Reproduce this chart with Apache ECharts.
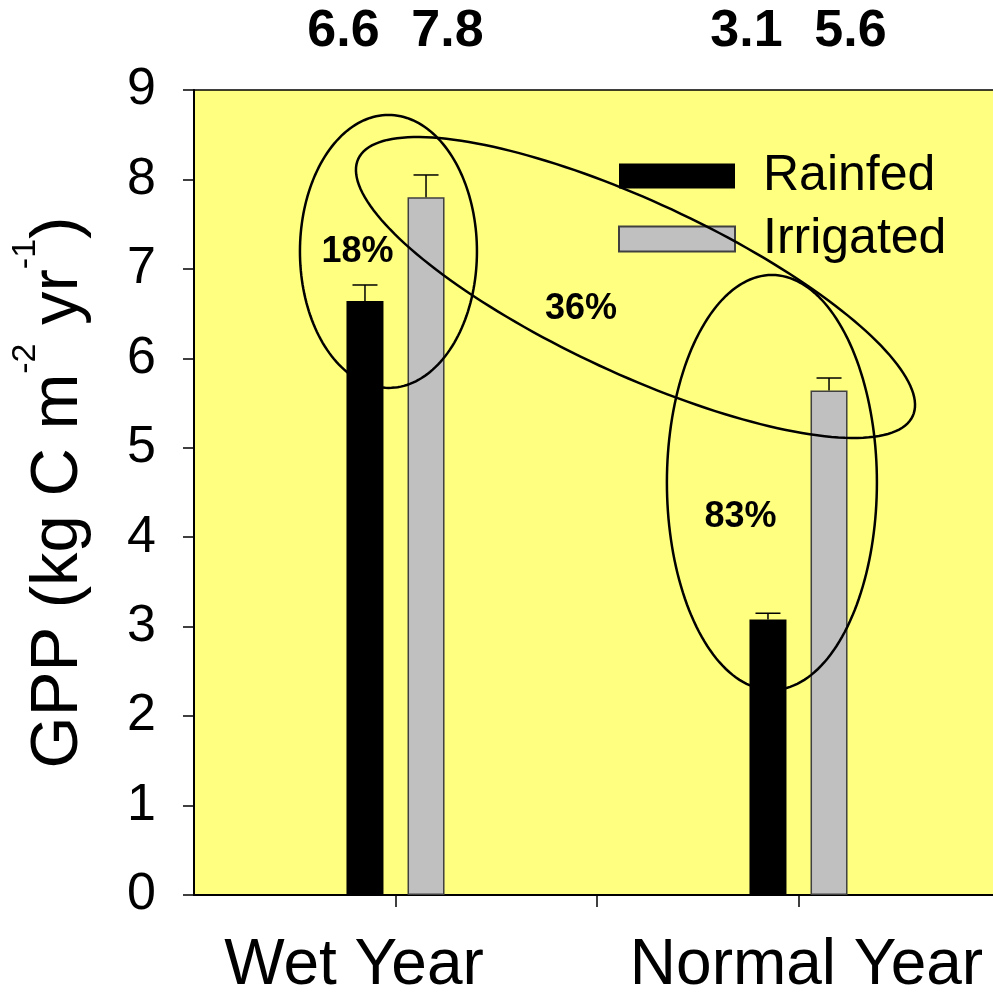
<!DOCTYPE html>
<html>
<head>
<meta charset="utf-8">
<title>GPP wet vs normal year</title>
<script src="https://cdn.jsdelivr.net/npm/echarts@6/dist/echarts.min.js"></script>
<style>
  html, body { margin: 0; padding: 0; background: #ffffff; }
  #chart { width: 993px; height: 997px; }
</style>
</head>
<body>
<div id="chart"></div>
<script>
// ---- data ----
const categories = ['Wet Year', 'Normal Year'];
const categoryPositions = [1, 3];          // positions on the x value axis
const seriesNames = ['Rainfed', 'Irrigated'];
const rainfedGPP = [6.64, 3.08];
const irrigatedGPP = [7.80, 5.64];
const rainfedErr = [0.18, 0.07];
const irrigatedErr = [0.25, 0.14];
const yTicks = [0, 1, 2, 3, 4, 5, 6, 7, 8, 9];
const increaseLabels = ['18%', '36%', '83%'];

// ---- annotation layout (data-space anchors, pixel sizes) ----
const labelAnchors = [[0.811, 7.19], [1.921, 6.55], [2.712, 4.22]];
const ellipseSpecs = [
  { x: 0.965, y: 7.195, a: 88.5, b: 136.5, angle: 0 },
  { x: 2.191, y: 6.792, a: 305.6, b: 86, angle: 24.9 },
  { x: 2.868, y: 4.612, a: 105, b: 207.5, angle: 0 }
];

const FONT = "'Liberation Sans', Arial, Helvetica, sans-serif";
const BAR_W = 37;
const BAR_GAP = 0.65;
const HALF_SPAN = (BAR_W * (1 + BAR_GAP)) / 2;   // centre offset of each bar
const CAP_HALF = 12.5;

const chart = echarts.init(document.getElementById('chart'), null, { renderer: 'canvas' });

function errorBarSeries(values, errs, dx) {
  return {
    type: 'custom',
    coordinateSystem: 'cartesian2d',
    silent: true,
    z: 4,
    data: categoryPositions.map((p, i) => [p, values[i], errs[i]]),
    renderItem: function (params, api) {
      const base = api.coord([api.value(0), api.value(1)]);
      const top = api.coord([api.value(0), api.value(1) + api.value(2)]);
      const x = base[0] + dx;
      const st = { stroke: '#000', lineWidth: 1.5 };
      return {
        type: 'group',
        children: [
          { type: 'line', shape: { x1: x, y1: base[1], x2: x, y2: top[1] }, style: st },
          { type: 'line', shape: { x1: x - CAP_HALF, y1: top[1], x2: x + CAP_HALF, y2: top[1] }, style: st }
        ]
      };
    }
  };
}

function valueLabelSeries(values, dx) {
  return {
    type: 'custom',
    coordinateSystem: 'cartesian2d',
    silent: true,
    z: 6,
    data: categoryPositions.map((p, i) => [p, values[i]]),
    renderItem: function (params, api) {
      const c = api.coord([api.value(0), yTicks[yTicks.length - 1]]);
      return {
        type: 'text',
        style: {
          x: c[0] + dx,
          y: c[1] - 58.5,
          text: api.value(1).toFixed(1),
          font: 'bold 52px ' + FONT,
          fill: '#000',
          align: 'center',
          verticalAlign: 'middle'
        }
      };
    }
  };
}

const option = {
  animation: false,
  backgroundColor: '#ffffff',
  grid: {
    left: 194, top: 90, width: 806, height: 805,
    outerBoundsMode: 'none',
    containLabel: false,
    show: true, backgroundColor: '#FFFF80', borderWidth: 0
  },
  legend: {
    orient: 'vertical',
    left: 613, top: 146,
    z: 3,
    itemWidth: 116, itemHeight: 25, itemGap: 13,
    icon: 'rect',
    selectedMode: false,
    textStyle: { fontSize: 50, fontFamily: FONT, color: '#000', padding: [0, 0, 0, 23] },
    data: seriesNames
  },
  xAxis: [
    {
      type: 'value', min: 0, max: 4, interval: 1,
      axisLine: { show: true, onZero: false, lineStyle: { color: '#000', width: 2 } },
      axisTick: { show: true, inside: false, length: 12, customValues: [1, 2, 3], lineStyle: { color: '#000', width: 1.5 } },
      axisLabel: {
        show: true,
        customValues: categoryPositions,
        margin: 39,
        formatter: function (v) {
          const i = categoryPositions.indexOf(v);
          return i === 0 ? '{w|' + categories[0] + '}' : '{n|' + categories[1] + '}';
        },
        rich: {
          w: { fontSize: 64, lineHeight: 64, fontFamily: FONT, color: '#000', padding: [0, 83, 0, 0] },
          n: { fontSize: 64, lineHeight: 64, fontFamily: FONT, color: '#000', padding: [0, 0, 0, 16] }
        }
      },
      splitLine: { show: false }
    },
    {
      type: 'value', min: 0, max: 4, position: 'top',
      axisLine: { show: true, onZero: false, lineStyle: { color: '#000', width: 1.5 } },
      axisTick: { show: false }, axisLabel: { show: false }, splitLine: { show: false }
    }
  ],
  yAxis: {
    type: 'value', min: yTicks[0], max: yTicks[yTicks.length - 1], interval: 1,
    axisLine: { show: true, onZero: false, lineStyle: { color: '#000', width: 2 } },
    axisTick: { show: true, inside: false, length: 11, lineStyle: { color: '#000', width: 1.5 } },
    axisLabel: { fontSize: 52, fontFamily: FONT, color: '#000', margin: 38 },
    splitLine: { show: false },
    name: '{m|GPP (kg C m}{s|-2}{m| yr}{s|-1}{m|)}',
    nameLocation: 'middle',
    nameRotate: 90,
    nameGap: 85,
    nameMoveOverlap: false,
    nameTextStyle: {
      rich: {
        m: { fontSize: 67, lineHeight: 100, fontFamily: FONT, color: '#000' },
        s: { fontSize: 34, lineHeight: 38, fontFamily: FONT, color: '#000', verticalAlign: 'top' }
      }
    }
  },
  series: [
    {
      name: seriesNames[0], type: 'bar',
      barWidth: BAR_W, barGap: (BAR_GAP * 100) + '%',
      itemStyle: { color: '#000000' },
      data: categoryPositions.map((p, i) => [p, rainfedGPP[i]]),
      z: 2
    },
    {
      name: seriesNames[1], type: 'bar',
      barWidth: BAR_W, barGap: (BAR_GAP * 100) + '%',
      itemStyle: { color: '#C0C0C0', borderColor: '#404040', borderWidth: 1.5 },
      data: categoryPositions.map((p, i) => [p, irrigatedGPP[i]]),
      z: 2
    },
    errorBarSeries(rainfedGPP, rainfedErr, -HALF_SPAN),
    errorBarSeries(irrigatedGPP, irrigatedErr, HALF_SPAN),
    valueLabelSeries(rainfedGPP, -52),
    valueLabelSeries(irrigatedGPP, 52),
    {
      // ellipses grouping compared bars
      type: 'custom',
      coordinateSystem: 'cartesian2d',
      silent: true,
      z: 5,
      data: ellipseSpecs.map(e => [e.x, e.y]),
      renderItem: function (params, api) {
        const e = ellipseSpecs[params.dataIndex];
        const c = api.coord([api.value(0), api.value(1)]);
        const th = e.angle * Math.PI / 180;
        const ct = Math.cos(th), sn = Math.sin(th);
        const pts = [];
        for (let k = 0; k < 180; k++) {
          const t = (k / 180) * Math.PI * 2;
          const ex = e.a * Math.cos(t), ey = e.b * Math.sin(t);
          pts.push([c[0] + ex * ct - ey * sn, c[1] + ex * sn + ey * ct]);
        }
        return {
          type: 'polygon',
          shape: { points: pts },
          style: { fill: 'none', stroke: '#000', lineWidth: 2.5 }
        };
      }
    },
    {
      // percentage increase labels
      type: 'custom',
      coordinateSystem: 'cartesian2d',
      silent: true,
      z: 6,
      data: labelAnchors,
      renderItem: function (params, api) {
        const c = api.coord([api.value(0), api.value(1)]);
        return {
          type: 'text',
          style: {
            x: c[0], y: c[1],
            text: increaseLabels[params.dataIndex],
            font: 'bold 36px ' + FONT,
            fill: '#000',
            align: 'center',
            verticalAlign: 'middle'
          }
        };
      }
    }
  ]
};

chart.setOption(option);
</script>
</body>
</html>
